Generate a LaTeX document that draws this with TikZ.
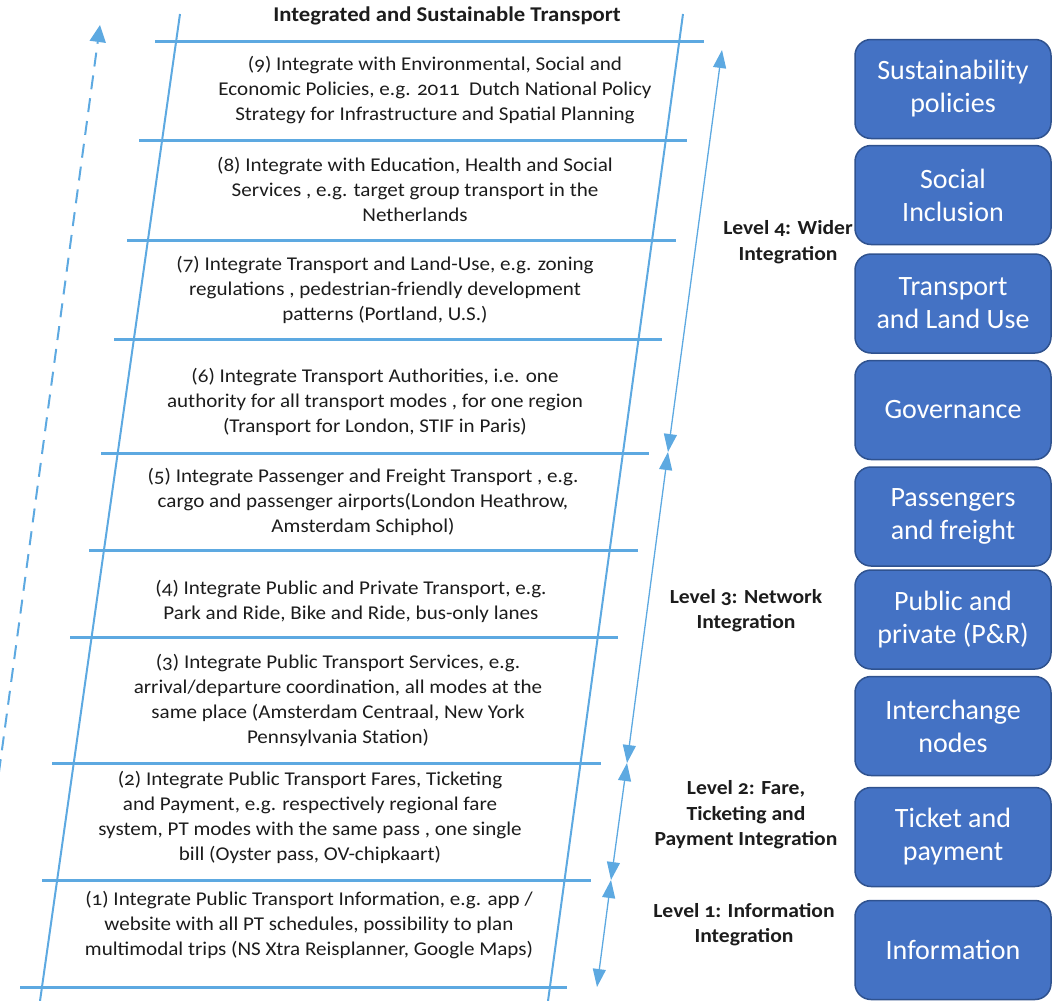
\documentclass[tikz,border=0pt]{standalone}
\usepackage{fontspec}
\setmainfont{Carlito}[Numbers=OldStyle,FakeStretch=1.08]
\newfontfamily\boxfont{Carlito}
\usetikzlibrary{arrows.meta}
\definecolor{rail}{RGB}{93,169,225}
\definecolor{boxfill}{RGB}{68,114,196}
\definecolor{boxedge}{RGB}{47,82,143}
\definecolor{ink}{RGB}{28,28,28}

\begin{document}
\begin{tikzpicture}[x=1pt,y=-1pt,
  rung/.style={draw=rail,line width=3pt},
  railline/.style={draw=rail,line width=2pt},
  stepbox/.style={text=ink,font=\fontsize{19.5}{25}\selectfont,align=center,inner sep=0pt},
  levellabel/.style={text=ink,font=\fontsize{20}{25.5}\selectfont\bfseries,align=center,inner sep=0pt},
  titletext/.style={text=ink,font=\fontsize{21}{25}\selectfont\bfseries,inner sep=0pt},
  themebox/.style={draw=boxedge,line width=1.5pt,fill=boxfill,rounded corners=16pt,
    minimum width=196pt,minimum height=99pt,text=white,
    font=\boxfont\fontsize{28}{33}\selectfont,align=center,inner sep=0pt},
  span/.style={draw=rail,line width=1.3pt,
    {Triangle[length=18pt,width=13pt]}-{Triangle[length=18pt,width=13pt]}},
  progress/.style={draw=rail,line width=2pt,dash pattern=on 14pt off 9pt,
    -{Triangle[length=17pt,width=16pt]}},
]
\useasboundingbox (0,0) rectangle (1052,1001);

% overall progression arrow on the far left
\begin{scope}
  \clip (0,0) rectangle (1052,1001);
  \coordinate (d0) at (-32,1001);
  \coordinate (d1) at (100,25);
  \draw[progress] (d0) -- (d1);
\end{scope}

% ladder rails
\coordinate (lt) at (180,14);
\coordinate (lb) at (40,1001);
\coordinate (rt) at (683,14);
\coordinate (rb) at (548,1001);
\draw[railline] (lt) -- (lb);
\draw[railline] (rt) -- (rb);

% ladder rungs
\foreach \y/\a/\b [count=\i] in {41/155/704, 140/139/687, 240/127/676, 339/114/662,
  453/101/649, 550/89/638, 637/70/618, 763/52/601, 880/42/591, 987/20/567} {
  \coordinate (ra\i) at (\a,\y);
  \coordinate (rb\i) at (\b,\y);
  \draw[rung] (ra\i) -- (rb\i);
}

% level spans
\coordinate (g0) at (597,987);
\coordinate (g1) at (611,880);
\coordinate (g2) at (627,763);
\coordinate (g3) at (668,452);
\coordinate (g4) at (722,50);
\draw[span] (g0) -- (g1);
\draw[span] (g1) -- (g2);
\draw[span] (g2) -- (g3);
\draw[span] (g3) -- (g4);

% title
\node[titletext] (title) at (447,16) {Integrated and Sustainable Transport};

% steps of integration
\node[stepbox] (s9) at (435,90) {(9) Integrate with Environmental, Social and\\
  Economic Policies, e.g. 2011\ \ Dutch National Policy\\
  Strategy for Infrastructure and Spatial Planning};
\node[stepbox] (s8) at (415,189) {(8) Integrate with Education, Health and Social\\
  Services , e.g. target group transport in the\\ Netherlands};
\node[stepbox] (s7) at (385,290) {(7) Integrate Transport and Land-Use, e.g. zoning\\
  regulations , pedestrian-friendly development\\ patterns (Portland, U.S.)};
\node[stepbox] (s6) at (375,402) {(6) Integrate Transport Authorities, i.e. one\\
  authority for all transport modes , for one region\\
  (Transport for London, STIF in Paris)};
\node[stepbox] (s5) at (363,502) {(5) Integrate Passenger and Freight Transport , e.g.\\
  cargo and passenger airports(London Heathrow,\\ Amsterdam Schiphol)};
\node[stepbox] (s4) at (351,601.5) {(4) Integrate Public and Private Transport, e.g.\\
  Park and Ride, Bike and Ride, bus-only lanes};
\node[stepbox] (s3) at (338,700.5) {(3) Integrate Public Transport Services, e.g.\\
  arrival/departure coordination, all modes at the\\
  same place (Amsterdam Centraal, New York\\ Pennsylvania Station)};
\node[stepbox] (s2) at (310,817.5) {(2) Integrate Public Transport Fares, Ticketing\\
  and Payment, e.g. respectively regional fare\\
  system, PT modes with the same pass , one single\\
  bill (Oyster pass, OV-chipkaart)};
\node[stepbox] (s1) at (309,925) {(1) Integrate Public Transport Information, e.g. app /\\
  website with all PT schedules, possibility to plan\\
  multimodal trips (NS Xtra Reisplanner, Google Maps)};

% levels
\node[levellabel] (l4) at (788,242) {Level 4: Wider\\ Integration};
\node[levellabel] (l3) at (746,610.5) {Level 3: Network\\ Integration};
\node[levellabel] (l2) at (746,815) {Level 2: Fare,\\ Ticketing and\\ Payment Integration};
\node[levellabel] (l1) at (744,924.5) {Level 1: Information\\ Integration};

% themes
\node[themebox] (b9) at (953,89) {Sustainability\\ policies};
\node[themebox] (b8) at (953,195) {Social\\ Inclusion};
\node[themebox] (b7) at (953,303.5) {Transport\\ and Land Use};
\node[themebox] (b6) at (953,410) {Governance};
\node[themebox] (b5) at (953,516.5) {Passengers\\ and freight};
\node[themebox] (b4) at (953,619.5) {Public and\\ private (P\&R)};
\node[themebox] (b3) at (953,726) {Interchange\\ nodes};
\node[themebox] (b2) at (953,837) {Ticket and\\ payment};
\node[themebox] (b1) at (953,950) {Information};
\end{tikzpicture}
\end{document}
